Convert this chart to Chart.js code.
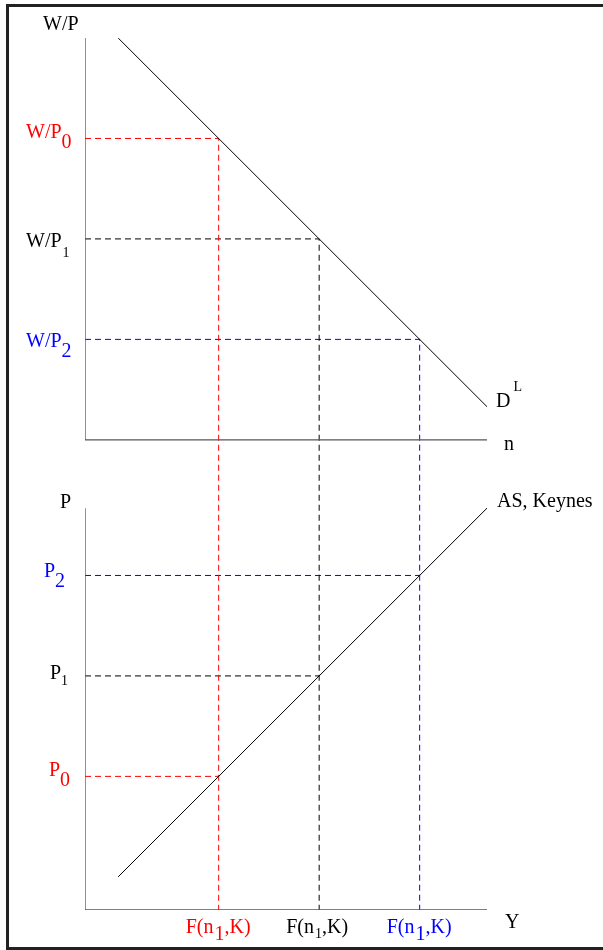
<!DOCTYPE html>
<html>
<head>
<meta charset="utf-8">
<script src="https://cdn.jsdelivr.net/npm/chart.js@4.4.1/dist/chart.umd.min.js"></script>
<style>
    html, body { margin: 0; padding: 0; background: #fff; overflow: hidden; }
    #wrap { position: absolute; left: 0; top: 0; width: 603px; height: 950px; }
    #frame {
        position: absolute; left: 6px; top: 4px; width: 640px; height: 946px;
        border: 3px solid #222; box-sizing: border-box; pointer-events: none;
    }
</style>
</head>
<body>
<div id="wrap"><canvas id="main"></canvas></div>
<div id="frame"></div>
<script>
// Données (unités des deux panneaux)
const employment = [1.33, 2.33, 3.33];      // n pour les cas 0, 1, 2
const realWage = [3, 2, 1];                 // W/P0, W/P1, W/P2
const priceLevel = [1.33, 2.33, 3.33];      // P0, P1, P2
const caseSubscripts = ['0', '1', '2'];
const caseColors = ['#ff0000', '#000000', '#0000ff'];

const demandN = [0.33, 4];
const demandW = [4, 0.33];
const supplyY = [0.33, 4];
const supplyP = [0.33, 4];

const axisMax = 4;
const wageAxisMin = -4.68;   // bas du panneau inférieur sur l'échelle W/P
const priceAxisMax = 8.68;

function pts(xs, ys) {
    return xs.map((x, i) => ({ x: x, y: ys[i] }));
}

function lineSet(data, axis, color, width, dash) {
    return {
        data: data,
        yAxisID: axis,
        showLine: true,
        borderColor: color,
        borderWidth: width,
        borderDash: dash || [],
        pointRadius: 0,
        tension: 0,
        fill: false
    };
}

const datasets = [
    lineSet(pts([0, 0, axisMax], [axisMax, 0, 0]), 'yW', '#555', 1.3),
    lineSet(pts([0, 0, axisMax], [axisMax, 0, 0]), 'yP', '#555', 1.3),
    lineSet(pts(demandN, demandW), 'yW', '#000', 1),
    lineSet(pts(supplyY, supplyP), 'yP', '#000', 1)
];

employment.forEach((n, i) => {
    datasets.push(lineSet(pts([0, n, n], [realWage[i], realWage[i], wageAxisMin]), 'yW', caseColors[i], 1, [6, 4]));
    datasets.push(lineSet(pts([0, n], [priceLevel[i], priceLevel[i]]), 'yP', caseColors[i], 1, [6, 4]));
});

const FONT = '"Liberation Serif", "Times New Roman", serif';
const BIG = 20;
const SMALL = 14;

// Dessine un texte composé de morceaux (texte, indice, exposant)
function drawParts(ctx, parts, x, y, color) {
    ctx.fillStyle = color;
    ctx.textBaseline = 'alphabetic';
    ctx.textAlign = 'left';
    let cx = x;
    parts.forEach(p => {
        ctx.font = `${p.size || BIG}px ${FONT}`;
        ctx.fillText(p.t, cx, y + (p.dy || 0));
        cx += ctx.measureText(p.t).width + (p.gap || 0);
    });
}

const labelPlugin = {
    id: 'labels',
    afterDatasetsDraw(chart) {
        const ctx = chart.ctx;
        const xs = chart.scales.x, yw = chart.scales.yW, yp = chart.scales.yP;
        const ax = xs.getPixelForValue(0);
        const ex = xs.getPixelForValue(axisMax);
        ctx.save();

        // Panneau du haut
        drawParts(ctx, [{ t: 'W/P' }], ax - 42, yw.getPixelForValue(axisMax) - 8, '#000');
        const wageDy = [0, 8, 8];
        realWage.forEach((w, i) => {
            const big = caseColors[i] !== '#000000';
            drawParts(ctx, [
                { t: 'W/P', gap: big ? 0 : 1 },
                { t: caseSubscripts[i], size: big ? BIG : SMALL, dy: 10 }
            ], ax - 59, yw.getPixelForValue(w) + wageDy[i], caseColors[i]);
        });
        drawParts(ctx, [{ t: 'D', gap: 3 }, { t: 'L', size: SMALL, dy: -16 }],
            ex + 9, yw.getPixelForValue(demandW[1]), '#000');
        drawParts(ctx, [{ t: 'n' }], ex + 17, yw.getPixelForValue(0) + 10, '#000');

        // Panneau du bas
        drawParts(ctx, [{ t: 'P' }], ax - 25, yp.getPixelForValue(axisMax), '#000');
        const priceX = [-36, -35, -41];
        const priceDy = [0, 3, 2];
        priceLevel.forEach((p, i) => {
            const big = caseColors[i] !== '#000000';
            drawParts(ctx, [
                { t: 'P' },
                { t: caseSubscripts[i], size: big ? BIG : SMALL, dy: big ? 10 : 6 }
            ], ax + priceX[i], yp.getPixelForValue(p) + priceDy[i], caseColors[i]);
        });
        drawParts(ctx, [{ t: 'AS, Keynes' }], ex + 10, yp.getPixelForValue(supplyP[1]) - 1, '#000');
        drawParts(ctx, [{ t: 'Y' }], ex + 18, yp.getPixelForValue(0) + 18, '#000');

        employment.forEach((n, i) => {
            const big = caseColors[i] !== '#000000';
            drawParts(ctx, [
                { t: 'F(n', gap: 1 },
                { t: '1', size: big ? BIG : SMALL, dy: big ? 7 : 5 },
                { t: ',K)' }
            ], xs.getPixelForValue(n) - 33, yp.getPixelForValue(0) + 23, caseColors[i]);
        });

        ctx.restore();
    }
};

new Chart(document.getElementById('main').getContext('2d'), {
    type: 'scatter',
    data: { datasets: datasets },
    options: {
        responsive: true,
        maintainAspectRatio: false,
        animation: false,
        events: [],
        layout: { padding: { left: 85, right: 116, top: 38, bottom: 40 } },
        scales: {
            x: { type: 'linear', min: 0, max: axisMax, display: false },
            yW: { type: 'linear', position: 'left', min: wageAxisMin, max: axisMax, display: false },
            yP: { type: 'linear', position: 'right', min: 0, max: priceAxisMax, display: false }
        },
        plugins: { legend: { display: false }, tooltip: { enabled: false } }
    },
    plugins: [labelPlugin]
});
</script>
</body>
</html>
